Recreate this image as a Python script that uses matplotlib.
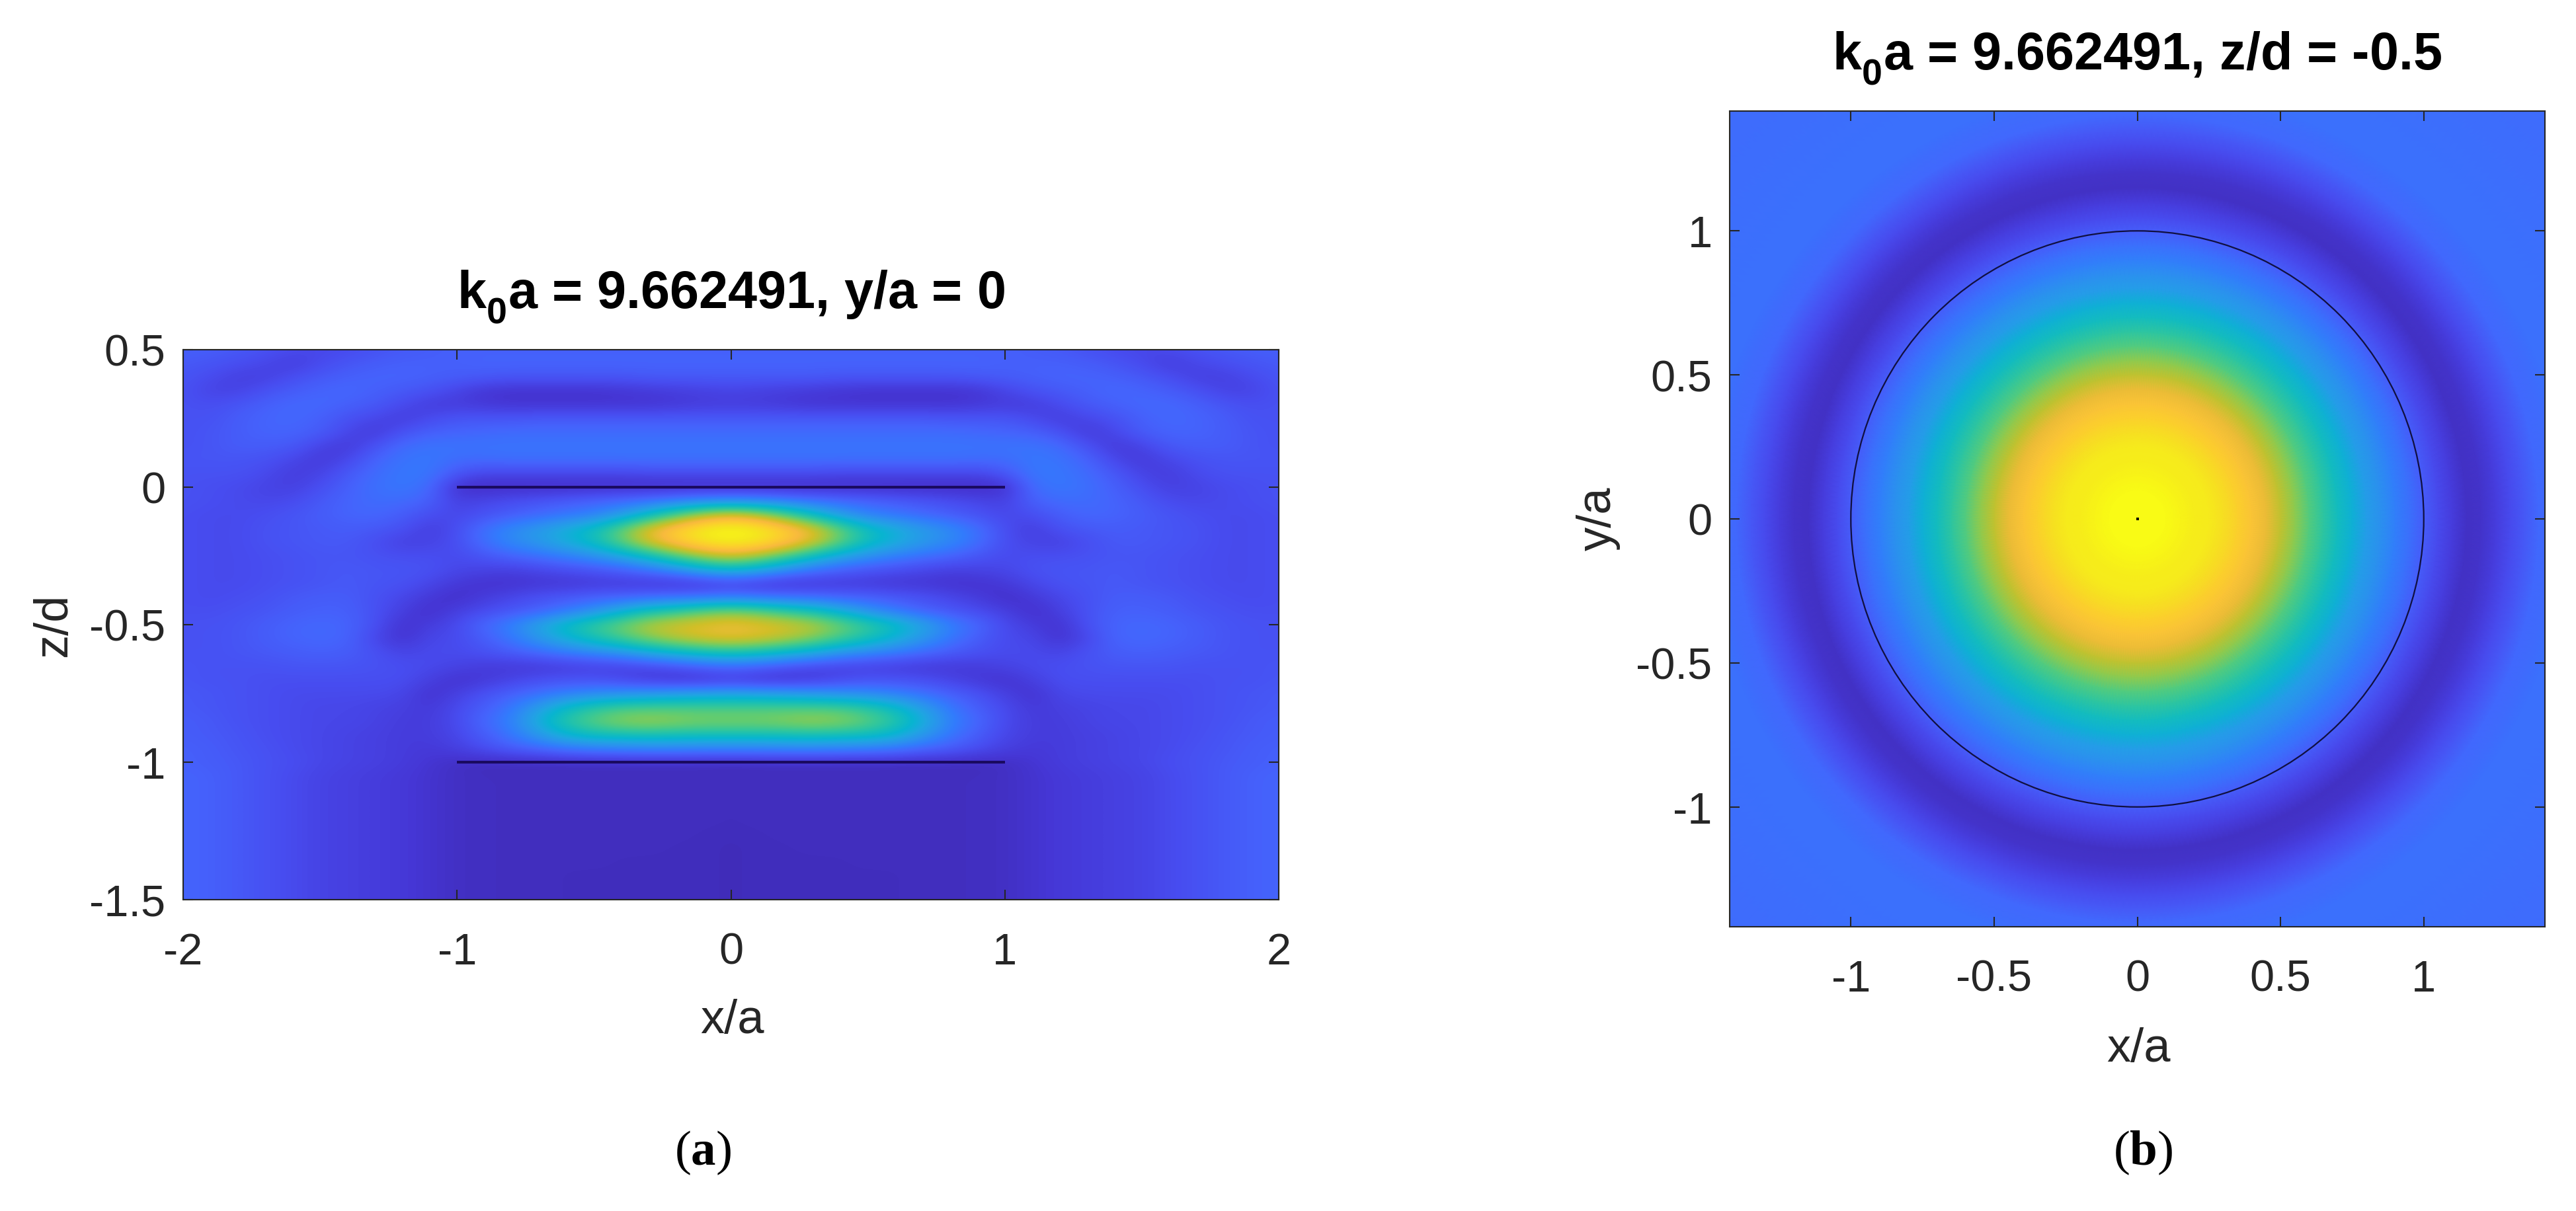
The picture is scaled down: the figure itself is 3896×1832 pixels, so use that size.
import numpy as np
import matplotlib
matplotlib.use("Agg")
import matplotlib.pyplot as plt
from matplotlib.colors import LinearSegmentedColormap
from matplotlib.patches import Circle
from matplotlib import _mathtext

W, H = 3896, 1833

# MATLAB parula, every 4th entry of the 64 colour table
parula_colors = [(.2422, .1504, .6603), (.2706, .2147, .8364), (.2813, .3006, .9414), (.2699, .3892, .9906),
                 (.1963, .4847, .9892), (.1687, .5703, .9359), (.1248, .6459, .8883), (.0297, .7082, .8163),
                 (.0964, .7500, .7120), (.2161, .7843, .5923), (.3909, .8029, .4354), (.6174, .7876, .2612),
                 (.8203, .7498, .1535), (.9728, .7298, .2394), (.9892, .8063, .1818), (.9597, .8997, .1173),
                 (.9769, .9839, .0805)]

# left panel: x from -2 to 0 (mirrored), z from 0.5 to -1.5
xz_x = [-2.0, -1.9, -1.8, -1.7, -1.6, -1.5, -1.4, -1.3, -1.2, -1.1, -1.0,
        -0.9, -0.8, -0.7, -0.6, -0.5, -0.4, -0.3, -0.2, -0.1, 0.0]
xz_z = [0.5, 0.45, 0.4, 0.35, 0.3, 0.25, 0.2, 0.15, 0.1, 0.05, 0.0, -0.05, -0.1, -0.15, -0.2,
        -0.25, -0.3, -0.35, -0.4, -0.45, -0.5, -0.55, -0.6, -0.65, -0.7, -0.75, -0.8, -0.85,
        -0.9, -0.95, -1.0, -1.05, -1.1, -1.15, -1.2, -1.25, -1.3, -1.35, -1.4, -1.45, -1.5]
xz_field = [
    [.18, .17, .16, .14, .12, .11, .12, .14, .16, .17, .18, .18, .18, .18, .18, .18, .18, .18, .18, .18, .18],
    [.16, .15, .13, .11, .08, .12, .15, .17, .18, .18, .18, .19, .19, .19, .19, .19, .19, .19, .19, .19, .19],
    [.15, .12, .09, .09, .13, .16, .18, .19, .19, .18, .17, .16, .15, .15, .15, .15, .15, .16, .16, .16, .16],
    [.14, .10, .10, .14, .17, .19, .20, .18, .16, .14, .10, .06, .05, .05, .05, .05, .06, .07, .08, .09, .10],
    [.14, .13, .15, .18, .20, .20, .18, .16, .12, .08, .08, .07, .06, .06, .06, .06, .06, .06, .07, .08, .08],
    [.14, .14, .17, .19, .20, .18, .14, .11, .08, .12, .15, .15, .15, .16, .16, .16, .16, .16, .16, .16, .16],
    [.14, .15, .17, .19, .19, .17, .11, .07, .14, .18, .19, .20, .21, .21, .21, .21, .21, .21, .21, .21, .21],
    [.14, .15, .17, .17, .16, .10, .07, .14, .21, .23, .23, .23, .23, .23, .23, .23, .23, .23, .23, .23, .23],
    [.15, .15, .15, .14, .11, .07, .11, .19, .23, .24, .21, .21, .22, .22, .22, .22, .22, .22, .22, .22, .22],
    [.14, .14, .14, .12, .08, .10, .16, .21, .24, .24, .15, .11, .11, .11, .11, .11, .11, .12, .12, .12, .12],
    [.14, .13, .12, .10, .09, .13, .18, .22, .24, .21, .04, .03, .03, .03, .03, .03, .03, .03, .03, .03, .03],
    [.14, .13, .12, .11, .12, .16, .19, .21, .21, .18, .09, .11, .13, .15, .17, .19, .21, .23, .26, .29, .30],
    [.13, .12, .12, .13, .15, .17, .19, .20, .17, .13, .11, .14, .17, .20, .23, .26, .34, .46, .60, .72, .78],
    [.13, .12, .12, .14, .15, .16, .17, .16, .14, .08, .13, .22, .29, .34, .41, .48, .62, .78, .88, .96, .99],
    [.13, .12, .12, .14, .15, .16, .16, .13, .09, .10, .13, .22, .29, .34, .41, .48, .62, .76, .86, .94, .97],
    [.13, .12, .12, .13, .14, .15, .15, .14, .13, .13, .12, .15, .19, .22, .26, .31, .38, .48, .60, .70, .75],
    [.13, .12, .12, .13, .14, .15, .16, .15, .15, .14, .11, .10, .09, .11, .13, .15, .18, .23, .30, .40, .45],
    [.13, .12, .12, .13, .14, .15, .16, .15, .14, .11, .07, .05, .05, .06, .06, .07, .07, .06, .05, .06, .08],
    [.13, .12, .13, .14, .16, .17, .17, .14, .11, .07, .04, .08, .11, .14, .16, .18, .19, .21, .22, .23, .25],
    [.13, .13, .14, .15, .17, .18, .18, .14, .09, .04, .09, .12, .15, .18, .24, .31, .41, .50, .55, .62, .65],
    [.14, .14, .15, .17, .19, .20, .19, .14, .05, .08, .12, .20, .27, .38, .48, .56, .64, .72, .76, .78, .80],
    [.14, .14, .15, .17, .19, .20, .19, .11, .05, .11, .12, .17, .24, .33, .42, .50, .58, .66, .72, .76, .78],
    [.14, .14, .15, .16, .17, .18, .17, .14, .10, .12, .12, .14, .17, .21, .25, .29, .33, .40, .45, .50, .52],
    [.15, .14, .14, .14, .15, .15, .15, .14, .13, .12, .10, .08, .07, .07, .08, .09, .10, .12, .15, .19, .21],
    [.15, .14, .14, .13, .13, .13, .13, .13, .13, .09, .05, .07, .10, .13, .14, .14, .11, .07, .05, .05, .07],
    [.16, .15, .14, .13, .12, .12, .12, .12, .11, .05, .09, .14, .18, .22, .26, .29, .31, .33, .35, .36, .37],
    [.16, .15, .14, .13, .12, .11, .11, .10, .09, .07, .12, .17, .24, .35, .46, .53, .57, .58, .58, .58, .58],
    [.17, .16, .14, .13, .12, .11, .11, .10, .08, .08, .12, .20, .27, .42, .54, .62, .68, .70, .68, .66, .66],
    [.17, .16, .15, .13, .12, .11, .10, .09, .08, .08, .11, .17, .24, .34, .44, .49, .50, .51, .50, .50, .50],
    [.18, .17, .15, .14, .12, .11, .10, .09, .08, .07, .09, .13, .17, .20, .24, .26, .27, .28, .28, .27, .27],
    [.18, .17, .16, .14, .13, .11, .10, .09, .08, .06, .04, .03, .03, .03, .03, .03, .03, .03, .03, .03, .03],
    [.19, .18, .16, .14, .12, .10, .09, .08, .07, .055, .04, .035, .035, .035, .035, .035, .035, .035, .035, .035, .03],
    [.19, .18, .16, .14, .12, .10, .09, .08, .07, .055, .04, .035, .035, .035, .035, .035, .035, .035, .035, .035, .03],
    [.19, .18, .16, .14, .12, .10, .09, .08, .07, .055, .04, .035, .035, .035, .035, .035, .035, .035, .035, .035, .03],
    [.19, .18, .16, .14, .12, .10, .09, .08, .07, .055, .04, .035, .035, .035, .035, .035, .035, .035, .035, .035, .03],
    [.19, .18, .16, .14, .12, .10, .09, .08, .07, .055, .04, .035, .035, .035, .035, .035, .035, .035, .035, .03, .03],
    [.19, .18, .16, .14, .12, .10, .09, .08, .07, .055, .04, .035, .035, .035, .035, .035, .035, .035, .03, .03, .025],
    [.19, .18, .16, .14, .12, .10, .09, .08, .07, .055, .04, .035, .035, .035, .035, .035, .03, .03, .03, .03, .025],
    [.19, .18, .16, .14, .12, .10, .09, .08, .07, .055, .04, .035, .035, .035, .03, .03, .03, .03, .03, .03, .025],
    [.19, .18, .16, .14, .12, .10, .09, .08, .07, .055, .04, .035, .035, .035, .03, .03, .03, .03, .03, .03, .025],
    [.19, .18, .16, .14, .12, .10, .09, .08, .07, .055, .04, .035, .035, .035, .03, .03, .03, .03, .03, .03, .025],
]

# right panel: level against distance from the axis
xy_radius = [0, .05, .1, .15, .2, .25, .3, .35, .4, .45, .5, .55, .6, .65, .7, .75, .8, .85, .9, .95,
             1.0, 1.05, 1.1, 1.15, 1.2, 1.25, 1.3, 1.35, 1.4, 1.45, 1.5, 1.6, 2.05]
xy_level = [1.0, 1.0, 1.0, .98, .96, .95, .92, .88, .84, .79, .73, .67, .60, .54, .48, .42, .35, .31, .26, .22,
            .17, .12, .08, .04, .05, .08, .12, .16, .20, .21, .22, .22, .21]

x_ticks_a = [-2, -1, 0, 1, 2]
z_ticks_a = [-1.5, -1, -0.5, 0, 0.5]
z_labels_a = ["-1.5", "-1", "-0.5", "0", "0.5"]
ticks_b = [-1, -0.5, 0, 0.5, 1]
tick_labels_b = ["-1", "-0.5", "0", "0.5", "1"]

plt.rcParams["font.family"] = ["Liberation Sans", "DejaVu Sans"]
plt.rcParams["mathtext.fontset"] = "custom"
plt.rcParams["mathtext.rm"] = "Liberation Serif"
plt.rcParams["mathtext.bf"] = "Liberation Serif:bold"
plt.rcParams["mathtext.sf"] = "Liberation Sans:bold"
# MATLAB drops its subscripts further than mathtext does
_mathtext.FontConstantsBase.sub1 = 0.55

parula = LinearSegmentedColormap.from_list("parula_like", parula_colors, N=256)
INK = "#262626"


def axes_px(fig, left, right, top, bottom):
    return fig.add_axes([left / W, 1 - bottom / H, (right - left) / W, (bottom - top) / H])


def style_axes(ax, title):
    ax.tick_params(direction="in", length=11, width=1.5, color=INK, labelcolor=INK,
                   labelsize=48, top=True, right=True)
    ax.tick_params(axis="x", pad=35)
    ax.tick_params(axis="y", pad=19)
    for s in ax.spines.values():
        s.set_linewidth(1.5)
        s.set_color(INK)
    ax.set_title(title, fontsize=57, fontweight="bold", pad=46, color="black")


fig = plt.figure(figsize=(W / 100, H / 100), dpi=100, facecolor="white")

# (a)
ax = axes_px(fig, 277, 1934, 530, 1362)
half = np.array(xz_field)
full = np.hstack([half, half[:, -2::-1]])
ax.imshow(full, cmap=parula, vmin=0, vmax=1, aspect="auto", interpolation="bicubic",
          extent=(xz_x[0] - 0.05, -xz_x[0] + 0.05, xz_z[-1] - 0.025, xz_z[0] + 0.025))
ax.plot([-1, 1], [0, 0], color="#1a0a60", lw=3.0, solid_capstyle="butt")
ax.plot([-1, 1], [-1, -1], color="#1a0a60", lw=3.0, solid_capstyle="butt")
ax.set_xlim(-2, 2)
ax.set_ylim(-1.5, 0.5)
ax.set_xticks(x_ticks_a)
ax.set_xticklabels([str(t) for t in x_ticks_a])
ax.set_yticks(z_ticks_a)
ax.set_yticklabels(z_labels_a)
style_axes(ax, r"k$_{\mathsf{0}}$a = 9.662491, y/a = 0")

# (b)
ax = axes_px(fig, 2616, 3849, 169, 1403)
theta = np.linspace(0, 2 * np.pi, 361)
rr, tt = np.meshgrid(xy_radius, theta)
levels = np.tile(xy_level, (len(theta), 1))
ax.pcolormesh(rr * np.cos(tt), rr * np.sin(tt), levels, cmap=parula, vmin=0, vmax=1, shading="gouraud")
ax.add_patch(Circle((0, 0), 1, fill=False, ec="#101040", lw=1.6))
ax.plot([0], [0], marker="s", ms=2.4, color="black", mew=0)
ax.set_xlim(-1.423, 1.423)
ax.set_ylim(-1.416, 1.416)
ax.set_xticks(ticks_b)
ax.set_xticklabels(tick_labels_b)
ax.set_yticks(ticks_b)
ax.set_yticklabels(tick_labels_b)
style_axes(ax, r"k$_{\mathsf{0}}$a = 9.662491, z/d = -0.5")


# axis labels and captions, placed in figure pixels
def label_px(x, y, s, **kw):
    fig.text(x / W, 1 - y / H, s, **kw)


label_px(1107, 1563, "x/a", fontsize=52, color=INK, ha="center", va="baseline")
label_px(3234, 1606, "x/a", fontsize=52, color=INK, ha="center", va="baseline")
label_px(82, 946, "z/d", fontsize=52, color=INK, ha="center", va="center", rotation=90)
label_px(2417, 785, "y/a", fontsize=52, color=INK, ha="center", va="center", rotation=90)
label_px(1063, 1762, r"$\mathrm{(}\mathbf{a}\mathrm{)}$", fontsize=54, color="black", ha="center", va="baseline")
label_px(3241, 1762, r"$\mathrm{(}\mathbf{b}\mathrm{)}$", fontsize=54, color="black", ha="center", va="baseline")

fig.savefig("out.png", dpi=100, facecolor="white")
